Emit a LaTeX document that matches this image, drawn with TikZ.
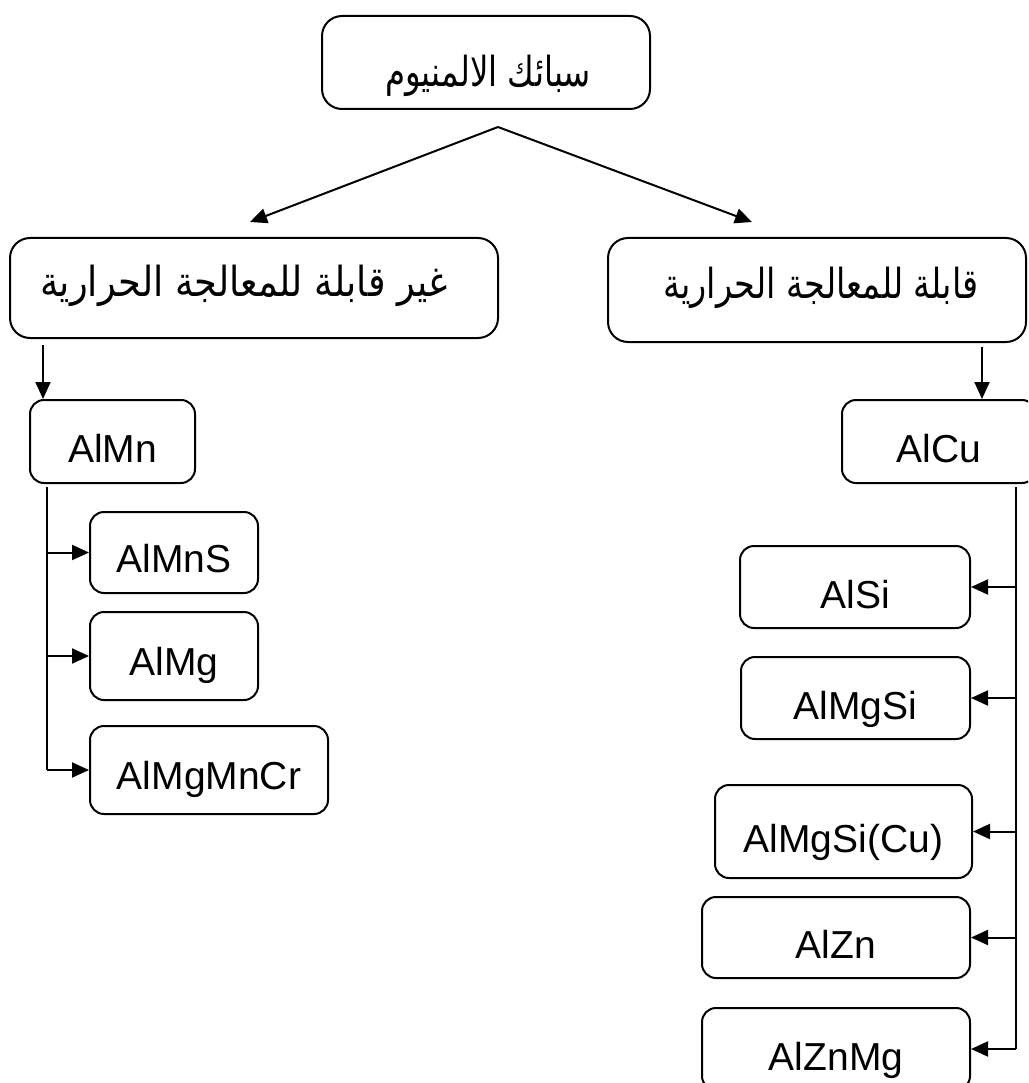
\documentclass[tikz,border=0pt]{standalone}
\usepackage{fontspec}
\setmainfont{Liberation Sans}
\newfontfamily\arabicfont[Script=Arabic]{DejaVu Sans}
\TeXXeTstate=1
\usetikzlibrary{arrows.meta,calc}
\tikzset{
  box/.style={draw, line width=2pt, rounded corners=14pt, inner sep=0pt},
  bigbox/.style={box, rounded corners=20pt},
  lat/.style={font=\fontsize{39}{39}\selectfont, anchor=base, inner sep=0pt},
  ar/.style={font=\arabicfont\fontsize{36}{36}\selectfont, anchor=base, inner sep=0pt},
  ln/.style={line width=2pt},
  arr/.style={ln, -{Triangle[length=17pt,width=15pt]}},
}
% #1 style, #2 name, #3 x1, #4 y1, #5 x2, #6 y2
\newcommand\mkbox[6]{\node[#1, minimum width={(#5)-(#3)}, minimum height={(#6)-(#4)}] (#2) at ({((#3)+(#5))/2},{((#4)+(#6))/2}) {};}
\begin{document}
\begin{tikzpicture}[x=1pt,y=-1pt]
\useasboundingbox (0,0) rectangle (1028,1083);
\clip (0,0) rectangle (1028,1083);
% boxes
\mkbox{bigbox}{top}{322}{16}{650}{109}
\mkbox{bigbox}{nonheat}{10}{238}{498}{338}
\mkbox{bigbox}{heat}{608}{238}{1026}{342}
\mkbox{box}{almn}{30}{400}{195}{483}
\mkbox{box}{alcu}{842}{400}{1036}{483}
\mkbox{box}{almns}{90}{512}{258}{593}
\mkbox{box}{almg}{90}{612}{258}{700}
\mkbox{box}{almgmncr}{90}{726}{328}{814}
\mkbox{box}{alsi}{740}{546}{970}{628}
\mkbox{box}{almgsi}{741}{657}{970}{739}
\mkbox{box}{almgsicu}{715}{785}{972}{878}
\mkbox{box}{alzn}{702}{897}{970}{978}
\mkbox{box}{alznmg}{702}{1008}{970}{1090}
% texts
\node[ar] (ttop) at (488,87) {\scalebox{0.9}[1.15]{\beginR سبائك الالمنيوم\endR}};
\node[ar] (tnonheat) at (244,296) {\scalebox{1.02}[1.15]{\beginR غير قابلة للمعالجة الحرارية\endR}};
\node[ar] (theat) at (821,298) {\scalebox{0.93}[1.15]{\beginR قابلة للمعالجة الحرارية\endR}};
\node[lat] (talmn) at ($(almn.center)+(0,21)$) {AlMn};
\node[lat] (talcu) at ($(alcu.center)+(0,21)$) {AlCu};
\node[lat] (talmns) at ($(almns.center)+(0,20)$) {AlMnS};
\node[lat] (talmg) at ($(almg.center)+(0,19)$) {AlMg};
\node[lat] (talmgmncr) at ($(almgmncr.center)+(0,19)$) {AlMgMnCr};
\node[lat] (talsi) at ($(alsi.center)+(0,21)$) {AlSi};
\node[lat] (talmgsi) at ($(almgsi.center)+(0,21)$) {AlMgSi};
\node[lat] (talmgsicu) at ($(almgsicu.center)+(0,21)$) {AlMgSi(Cu)};
\node[lat] (talzn) at ($(alzn.center)+(0,21)$) {AlZn};
\node[lat] (talznmg) at ($(alznmg.center)+(0,21)$) {AlZnMg};
% top split
\coordinate (split) at (498,127);
\coordinate (ltip) at (250,222);
\coordinate (rtip) at (752,222);
\draw[arr] (split) -- (ltip);
\draw[arr] (split) -- (rtip);
% down arrows
\coordinate (ls) at (43,345);
\draw[arr] (ls) -- (ls |- almn.north);
\coordinate (rs) at (982,347);
\draw[arr] (rs) -- (rs |- alcu.north);
% left trunk
\coordinate (lt0) at (47,487);
\draw[ln] (lt0) -- (lt0 |- almgmncr.west);
\draw[arr] (lt0 |- almns.west) -- (almns.west);
\draw[arr] (lt0 |- almg.west) -- (almg.west);
\draw[arr] (lt0 |- almgmncr.west) -- (almgmncr.west);
% right trunk
\coordinate (rt0) at (1016,487);
\draw[ln] (rt0) -- (rt0 |- alznmg.east);
\draw[arr] (rt0 |- alsi.east) -- (alsi.east);
\draw[arr] (rt0 |- almgsi.east) -- (almgsi.east);
\draw[arr] (rt0 |- almgsicu.east) -- (almgsicu.east);
\draw[arr] (rt0 |- alzn.east) -- (alzn.east);
\draw[arr] (rt0 |- alznmg.east) -- (alznmg.east);
\end{tikzpicture}
\end{document}
